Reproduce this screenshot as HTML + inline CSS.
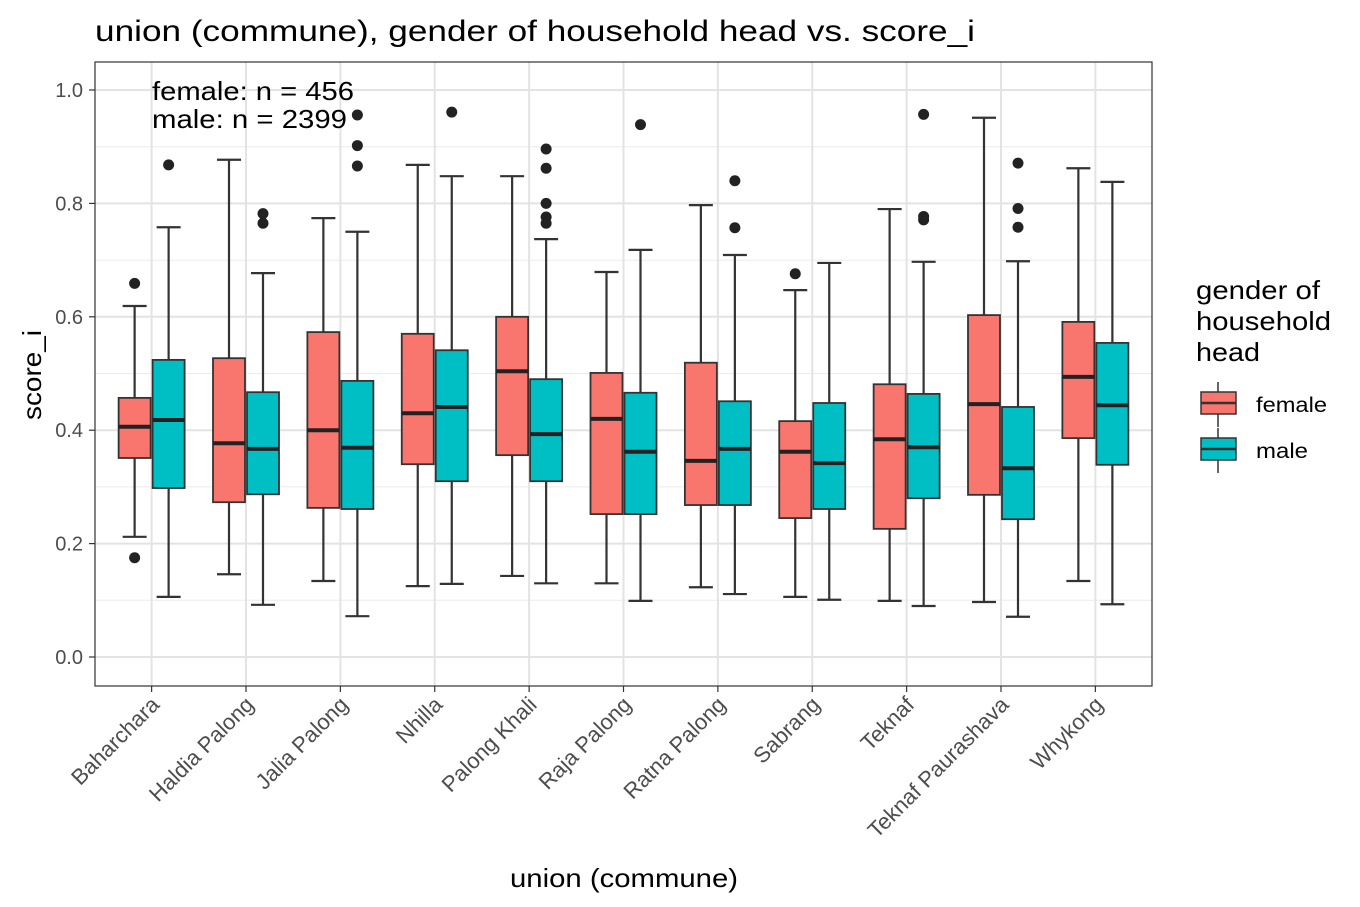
<!DOCTYPE html>
<html><head><meta charset="utf-8"><style>
body{margin:0;background:#fff;font-family:"Liberation Sans",Arial,sans-serif}
svg{display:block}
</style></head><body>
<svg id="chart" width="1360" height="907" viewBox="0 0 1360 907">
<text x="95" y="41" font-size="30" textLength="880" lengthAdjust="spacingAndGlyphs" fill="#000">union (commune), gender of household head vs. score_i</text>
<g id="grid"></g>
<g id="marks"></g>
<rect x="95" y="62" width="1057" height="624" fill="none" stroke="#333" stroke-width="1.2"/>
<g id="axes"></g>
<text x="152" y="100" font-size="26" textLength="202" lengthAdjust="spacingAndGlyphs">female: n = 456</text>
<text x="152" y="128" font-size="26" textLength="195" lengthAdjust="spacingAndGlyphs">male: n = 2399</text>
<text x="510" y="887" font-size="26" textLength="228" lengthAdjust="spacingAndGlyphs">union (commune)</text>
<text transform="translate(41,420) rotate(-90)" font-size="26" textLength="90" lengthAdjust="spacingAndGlyphs">score_i</text>
<g>
<text x="1196" y="299" font-size="26" textLength="124" lengthAdjust="spacingAndGlyphs">gender of</text>
<text x="1196" y="330" font-size="26" textLength="135" lengthAdjust="spacingAndGlyphs">household</text>
<text x="1196" y="361" font-size="26" textLength="64" lengthAdjust="spacingAndGlyphs">head</text>
<g>
<line x1="1218" y1="382" x2="1218" y2="427" stroke="#333" stroke-width="1.5"/>
<rect x="1201" y="392" width="35" height="22" fill="#F8766D" stroke="#333" stroke-width="1.5"/>
<line x1="1201" y1="403" x2="1236" y2="403" stroke="#333" stroke-width="2.5"/>
<text x="1256" y="412" font-size="21" textLength="71" lengthAdjust="spacingAndGlyphs">female</text></g>
<g>
<line x1="1218" y1="428" x2="1218" y2="473" stroke="#333" stroke-width="1.5"/>
<rect x="1201" y="438" width="35" height="22" fill="#00BFC4" stroke="#333" stroke-width="1.5"/>
<line x1="1201" y1="449" x2="1236" y2="449" stroke="#333" stroke-width="2.5"/>
<text x="1256" y="458" font-size="21" textLength="52" lengthAdjust="spacingAndGlyphs">male</text></g>
</g>
</svg>
<script>
const categories=["Baharchara","Haldia Palong","Jalia Palong","Nhilla","Palong Khali","Raja Palong","Ratna Palong","Sabrang","Teknaf","Teknaf Paurashava","Whykong"];
// [lower whisker, Q1, median, Q3, upper whisker]
const femaleStats=[[0.212,0.351,0.406,0.457,0.619],[0.146,0.273,0.377,0.527,0.877],[0.134,0.263,0.400,0.573,0.774],[0.125,0.340,0.430,0.570,0.868],[0.143,0.356,0.504,0.600,0.848],[0.130,0.252,0.420,0.501,0.679],[0.123,0.268,0.346,0.519,0.797],[0.106,0.245,0.362,0.416,0.647],[0.099,0.226,0.384,0.481,0.790],[0.097,0.286,0.446,0.603,0.951],[0.134,0.386,0.494,0.591,0.862]];
const maleStats=[[0.106,0.298,0.418,0.524,0.758],[0.092,0.287,0.367,0.467,0.677],[0.072,0.261,0.369,0.487,0.750],[0.129,0.310,0.441,0.541,0.848],[0.130,0.310,0.393,0.490,0.737],[0.099,0.252,0.362,0.466,0.718],[0.111,0.268,0.367,0.451,0.709],[0.101,0.261,0.342,0.448,0.695],[0.090,0.280,0.370,0.464,0.697],[0.071,0.243,0.333,0.441,0.698],[0.093,0.339,0.444,0.554,0.838]];
const femaleOutliers=[[0.659,0.175],[],[],[],[],[],[],[0.676],[],[],[]];
const maleOutliers=[[0.868],[0.782,0.765],[0.956,0.902,0.866],[0.961],[0.896,0.862,0.800,0.776,0.765],[0.939],[0.840,0.757],[],[0.957,0.777,0.771],[0.871,0.791,0.758],[]];
const yTicks=[0,0.2,0.4,0.6,0.8,1.0];
const yTickLabels=["0.0","0.2","0.4","0.6","0.8","1.0"];

const NS="http://www.w3.org/2000/svg";
const px0=95,pw=1057,step=pw/(categories.length-1+1.2);
const xs=i=>px0+step*(0.6+i);
const ys=v=>657-v*567;
function mk(tag,attrs,parent){const e=document.createElementNS(NS,tag);for(const k in attrs)e.setAttribute(k,attrs[k]);parent.appendChild(e);return e;}
const grid=document.getElementById('grid'),marks=document.getElementById('marks'),axes=document.getElementById('axes');
for(let v=0.1;v<1.05;v+=0.2){const l=mk('line',{x1:95,x2:1152,y1:ys(v),y2:ys(v),stroke:'#ebebeb','stroke-width':1},grid);

}
yTicks.forEach((v,i)=>{const l=mk('line',{x1:95,x2:1152,y1:ys(v),y2:ys(v),stroke:'#e3e3e3','stroke-width':2},grid);


const t=mk('line',{x1:89,x2:95,y1:ys(v),y2:ys(v),stroke:'#333','stroke-width':1.2},axes);


const tx=mk('text',{x:83,y:ys(v)+7,'font-size':20,fill:'#4d4d4d','text-anchor':'end'},axes);tx.textContent=yTickLabels[i];

});
categories.forEach((c,i)=>{const x=xs(i);
const l=mk('line',{x1:x,x2:x,y1:62,y2:686,stroke:'#e3e3e3','stroke-width':2},grid);


const t=mk('line',{x1:x,x2:x,y1:686,y2:692,stroke:'#333','stroke-width':1.2},axes);


const tx=mk('text',{transform:`translate(${x+9},${706}) rotate(-45)`,'font-size':22,fill:'#4d4d4d','text-anchor':'end'},axes);tx.textContent=c;


[[femaleStats,femaleOutliers,'#F8766D',-17,'female'],[maleStats,maleOutliers,'#00BFC4',17,'male']].forEach(([st,out,col,off,g])=>{
const s=st[i],cx=x+off,bw=32,cw=24;
const grp=mk('g',{},marks);


mk('line',{x1:cx,x2:cx,y1:ys(s[0]),y2:ys(s[1]),stroke:'#333','stroke-width':2.2},grp);
mk('line',{x1:cx,x2:cx,y1:ys(s[3]),y2:ys(s[4]),stroke:'#333','stroke-width':2.2},grp);
mk('line',{x1:cx-cw/2,x2:cx+cw/2,y1:ys(s[0]),y2:ys(s[0]),stroke:'#333','stroke-width':2.2},grp);
mk('line',{x1:cx-cw/2,x2:cx+cw/2,y1:ys(s[4]),y2:ys(s[4]),stroke:'#333','stroke-width':2.2},grp);
mk('rect',{x:cx-bw/2,y:ys(s[3]),width:bw,height:ys(s[1])-ys(s[3]),fill:col,stroke:'#333','stroke-width':1.8},grp);
mk('line',{x1:cx-bw/2,x2:cx+bw/2,y1:ys(s[2]),y2:ys(s[2]),stroke:'#222','stroke-width':4},grp);
out[i].forEach(v=>{const p=mk('circle',{cx:cx,cy:ys(v),r:5.5,fill:'#222'},marks);

});
});});
</script>
</body></html>
